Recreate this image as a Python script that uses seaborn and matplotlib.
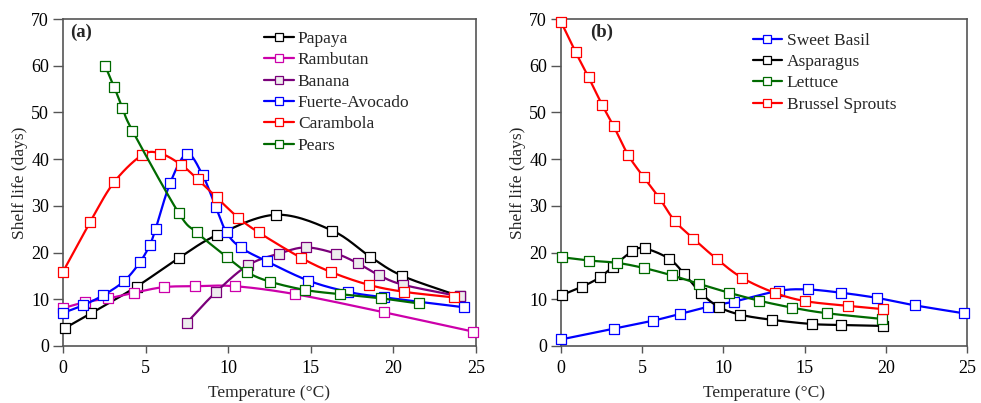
import numpy as np
import pandas as pd
import matplotlib
matplotlib.use("Agg")
import matplotlib.pyplot as plt
import seaborn as sns
from matplotlib.lines import Line2D

# ---------------- data ----------------
papaya_t = [0.1, 1.7, 4.45, 7.0, 9.35, 12.9, 16.3, 18.6, 20.55, 24.05]
papaya_v = [3.8, 7.0, 12.7, 18.8, 23.8, 28.1, 24.7, 19.1, 15.0, 10.6]

rambutan_t = [0.0, 1.35, 2.75, 4.3, 6.1, 8.0, 10.4, 14.05, 19.45, 24.8]
rambutan_v = [8.1, 9.4, 10.2, 11.4, 12.6, 12.8, 12.8, 11.1, 7.2, 3.1]

banana_t = [7.5, 9.25, 11.2, 13.1, 14.7, 16.5, 17.85, 19.1, 20.6, 24.05]
banana_v = [5.0, 11.5, 17.3, 19.8, 21.1, 19.8, 17.7, 15.2, 13.1, 10.6]

avocado_t = [0.0, 1.2, 2.45, 3.7, 4.65, 5.25, 5.6, 6.5, 7.5, 8.45, 9.25, 9.9,
             10.75, 12.35, 14.85, 17.25, 19.45, 24.25]
avocado_v = [7.1, 8.7, 10.9, 13.9, 17.9, 21.6, 25.0, 35.0, 41.1, 36.6, 29.7, 24.3,
             21.1, 18.1, 14.0, 11.6, 10.4, 8.3]

carambola_t = [0.0, 1.65, 3.1, 4.8, 5.9, 7.15, 8.15, 9.3, 10.6, 11.85, 14.4,
               16.25, 18.5, 20.65, 23.65]
carambola_v = [15.9, 26.6, 35.1, 40.9, 41.2, 38.8, 35.7, 31.8, 27.5, 24.3, 18.9,
               15.8, 13.1, 11.6, 10.4]

pears_t = [2.55, 3.1, 3.6, 4.2, 7.0, 8.1, 9.9, 11.15, 12.5, 14.65, 16.75, 19.25, 21.55]
pears_v = [60.0, 55.4, 51.0, 46.1, 28.5, 24.3, 19.1, 15.8, 13.8, 12.0, 11.1, 10.2, 9.1]

basil_t = [0.0, 3.25, 5.65, 7.35, 9.05, 10.65, 13.4, 15.2, 17.25, 19.45, 21.8, 24.8]
basil_v = [1.4, 3.7, 5.4, 6.9, 8.4, 9.5, 11.8, 12.1, 11.4, 10.3, 8.7, 7.0]

asparagus_t = [0.05, 1.3, 2.4, 3.2, 4.4, 5.15, 6.65, 7.6, 8.6, 9.7, 11.05, 13.0,
               15.45, 17.25, 19.8]
asparagus_v = [10.9, 12.7, 14.7, 17.0, 20.3, 20.9, 18.7, 15.4, 11.4, 8.4, 6.7, 5.6,
               4.7, 4.5, 4.3]

lettuce_t = [0.05, 1.7, 3.45, 5.1, 6.85, 8.5, 10.35, 12.2, 14.25, 16.4, 19.75]
lettuce_v = [19.0, 18.3, 17.8, 16.7, 15.1, 13.3, 11.4, 9.7, 8.2, 7.0, 5.8]

brussel_t = [0.0, 0.9, 1.7, 2.55, 3.25, 4.15, 5.1, 6.05, 7.0, 8.15, 9.6, 11.15,
             13.15, 15.05, 17.65, 19.8]
brussel_v = [69.4, 62.9, 57.5, 51.5, 47.0, 40.8, 36.1, 31.7, 26.8, 23.0, 18.6, 14.6,
             11.4, 9.6, 8.6, 7.9]

x_ticks = [0, 5, 10, 15, 20, 25]
y_ticks = [0, 10, 20, 30, 40, 50, 60, 70]

left_series = [
    ("Papaya", papaya_t, papaya_v, "#000000", "white"),
    ("Rambutan", rambutan_t, rambutan_v, "#CC00AA", "white"),
    ("Banana", banana_t, banana_v, "#7A007A", "#EDEDED"),
    ("Fuerte-Avocado", avocado_t, avocado_v, "#0000FF", "white"),
    ("Carambola", carambola_t, carambola_v, "#FF0000", "white"),
    ("Pears", pears_t, pears_v, "#006A00", "white"),
]
right_series = [
    ("Sweet Basil", basil_t, basil_v, "#0000FF", "white"),
    ("Asparagus", asparagus_t, asparagus_v, "#000000", "white"),
    ("Lettuce", lettuce_t, lettuce_v, "#006A00", "white"),
    ("Brussel Sprouts", brussel_t, brussel_v, "#FF0000", "white"),
]

# ---------------- styling ----------------
sns.set_theme(style="ticks")
plt.rcParams["font.family"] = ["Liberation Serif", "DejaVu Serif"]

SX, SY = 16.5, 4.67  # pixel scale used for smoothing shape


def smooth(t, v, n=16):
    """Catmull-Rom smoothing (like spreadsheet smoothed lines) for display."""
    p = np.column_stack([np.asarray(t) * SX, np.asarray(v) * SY])
    if len(p) < 3:
        return np.asarray(t), np.asarray(v)
    ext = np.vstack([2 * p[0] - p[1], p, 2 * p[-1] - p[-2]])
    out = []
    for i in range(1, len(ext) - 2):
        p0, p1, p2, p3 = ext[i - 1], ext[i], ext[i + 1], ext[i + 2]
        c1 = p1 + (p2 - p0) / 6.0
        c2 = p2 - (p3 - p1) / 6.0
        s = np.linspace(0, 1, n, endpoint=(i == len(ext) - 3))[:, None]
        seg = ((1 - s) ** 3) * p1 + 3 * ((1 - s) ** 2) * s * c1 + 3 * (1 - s) * s ** 2 * c2 + s ** 3 * p2
        out.append(seg)
    out = np.vstack(out)
    return out[:, 0] / SX, out[:, 1] / SY


fig = plt.figure(figsize=(9.81, 4.03), dpi=100)
axL = fig.add_axes([63 / 981, 1 - 346 / 403, 413 / 981, 327 / 403])
axR = fig.add_axes([561 / 981, 1 - 346 / 403, 406 / 981, 327 / 403])

LW = 1.6
MS = 7.6
MEW = 0.9
SPINE = "#555555"

for ax, series, panel, px, leg_x, leg_y in [
    (axL, left_series, "(a)", 0.018, 0.47, 0.985),
    (axR, right_series, "(b)", 0.072, 0.455, 0.98),
]:
    handles = []
    for k, (name, t, v, col, fc) in enumerate(series):
        xs, ys = smooth(t, v)
        df_line = pd.DataFrame({"T": xs, "V": ys})
        sns.lineplot(data=df_line, x="T", y="V", ax=ax, color=col, lw=LW,
                     sort=False, estimator=None, zorder=3 + 2 * k, legend=False)
        df_pts = pd.DataFrame({"T": t, "V": v})
        sns.scatterplot(data=df_pts, x="T", y="V", ax=ax, marker="s", s=MS ** 2,
                        color=fc, edgecolor=col, linewidth=MEW, zorder=4 + 2 * k,
                        clip_on=False, legend=False)
        handles.append(Line2D([], [], color=col, lw=LW, marker="s", markersize=MS * 0.85,
                              markerfacecolor=fc, markeredgecolor=col, markeredgewidth=MEW,
                              label=name))
    ax.set_xlim(0, 25)
    ax.set_ylim(0, 70)
    ax.set_xticks(x_ticks)
    ax.set_yticks(y_ticks)
    ax.set_xticklabels([str(x) for x in x_ticks])
    ax.set_yticklabels([str(y) for y in y_ticks])
    ax.tick_params(axis="both", direction="out", width=1, color=SPINE,
                   labelsize=13, labelcolor="black")
    ax.tick_params(axis="x", length=5, pad=5)
    ax.tick_params(axis="y", length=7, pad=3)
    for sp in ax.spines.values():
        sp.set_visible(True)
        sp.set_color(SPINE)
        sp.set_linewidth(1.2)
    ax.set_xlabel("Temperature (°C)", fontsize=12.5, labelpad=6)
    ax.set_ylabel("Shelf life (days)", fontsize=12.5, labelpad=2)
    ax.text(px, 0.985, panel, transform=ax.transAxes, fontsize=13.5, fontweight="bold",
            va="top", ha="left")
    ax.legend(handles=handles, loc="upper left", bbox_to_anchor=(leg_x, leg_y),
              frameon=False, fontsize=12.5, handlelength=1.7, handletextpad=0.25,
              labelspacing=0.3, borderaxespad=0.0)
    ax.set_facecolor("white")

fig.patch.set_facecolor("white")
fig.savefig("out.png", dpi=100, facecolor="white")
